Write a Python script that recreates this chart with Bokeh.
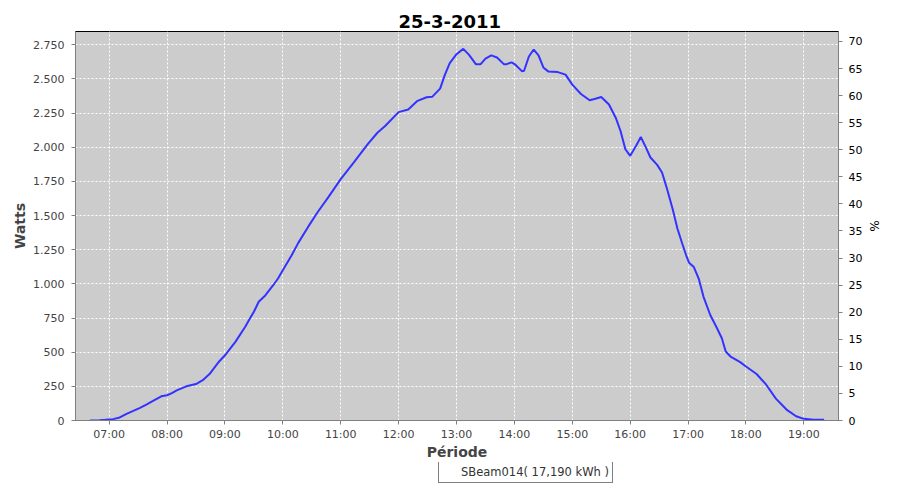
import datetime as dt
from bokeh.plotting import figure
from bokeh.models import (Range1d, LinearAxis, FixedTicker, DatetimeTickFormatter,
                          Legend, LegendItem, ColumnDataSource)
from bokeh.layouts import column
from bokeh.embed import file_html
from bokeh.resources import INLINE

title_text = "25-3-2011"
series_name = "SBeam014( 17,190 kWh )"

times = ["06:40", "06:50", "06:56", "07:04", "07:10", "07:18", "07:25", "07:32", "07:39", "07:45",
         "07:54", "08:00", "08:05", "08:10", "08:20", "08:30", "08:37", "08:44", "08:54", "09:01",
         "09:11", "09:21", "09:26", "09:30", "09:35", "09:42", "09:50", "09:55", "10:01", "10:09",
         "10:16", "10:26", "10:36", "10:47", "11:00", "11:14", "11:28", "11:38", "11:46", "12:00",
         "12:10", "12:19", "12:29", "12:35", "12:43", "12:48", "12:53", "13:00", "13:07", "13:13",
         "13:20", "13:25", "13:30", "13:36", "13:42", "13:49", "13:52", "13:57", "14:01", "14:08",
         "14:10", "14:15", "14:20", "14:25", "14:30", "14:35", "14:45", "14:53", "15:00", "15:09",
         "15:18", "15:23", "15:30", "15:38", "15:45", "15:50", "15:55", "16:00", "16:06", "16:11",
         "16:16", "16:21", "16:28", "16:33", "16:38", "16:44", "16:49", "16:54", "16:58", "17:01",
         "17:06", "17:11", "17:16", "17:23", "17:30", "17:35", "17:39", "17:44", "17:54", "18:00",
         "18:11", "18:21", "18:31", "18:42", "18:52", "19:00", "19:10", "19:21"]
watts = [0, 2, 5, 10, 20, 49, 70, 92, 118, 141,
         177, 185, 200, 220, 250, 267, 295, 340, 432, 485,
         577, 686, 748, 796, 869, 917, 990, 1039, 1112, 1208,
         1300, 1415, 1524, 1633, 1767, 1893, 2022, 2106, 2155, 2257,
         2276, 2337, 2366, 2370, 2429, 2531, 2616, 2681, 2720, 2676,
         2608, 2608, 2648, 2672, 2657, 2608, 2608, 2621, 2604, 2555,
         2560, 2664, 2715, 2672, 2584, 2555, 2550, 2531, 2458, 2390,
         2344, 2353, 2368, 2313, 2216, 2119, 1985, 1937, 2009, 2075,
         2003, 1925, 1871, 1815, 1700, 1548, 1403, 1294, 1209, 1155,
         1123, 1039, 905, 772, 675, 602, 505, 468, 427, 395,
         340, 262, 160, 80, 31, 12, 5, 5]

x_tick_hours = [7, 8, 9, 10, 11, 12, 13, 14, 15, 16, 17, 18, 19]
watt_ticks = [0, 250, 500, 750, 1000, 1250, 1500, 1750, 2000, 2250, 2500, 2750]
pct_ticks = [0, 5, 10, 15, 20, 25, 30, 35, 40, 45, 50, 55, 60, 65, 70]

day = dt.datetime(2011, 3, 25)
xs = [day + dt.timedelta(hours=int(t[:2]), minutes=int(t[3:])) for t in times]
src = ColumnDataSource(dict(x=xs, y=watts))

x_start = day + dt.timedelta(hours=6, minutes=25, seconds=6)
x_end = day + dt.timedelta(hours=19, minutes=35, seconds=54)

FONT = "DejaVu Sans"
LABEL_COL = "#444444"
AXIS_COL = "#808080"
LINE_COL = "#3333FF"

p = figure(width=884, height=462, x_axis_type="datetime",
           x_range=Range1d(x_start, x_end), y_range=Range1d(0, 2847),
           output_backend="svg", toolbar_location=None,
           min_border_left=75, min_border_right=38, min_border_top=31, min_border_bottom=40)

p.title.text = title_text
p.title.align = "left"
p.title.text_font = FONT
p.title.text_font_size = "18px"
p.title.text_font_style = "bold"
p.title.text_color = "#000000"
p.title.offset = 323
p.title.standoff = 7

p.background_fill_color = "#CCCCCC"
p.border_fill_color = "white"
p.outline_line_color = "black"
p.outline_line_width = 1

r = p.line("x", "y", source=src, line_color=LINE_COL, line_width=2)

def epoch_ms(d):
    return (d - dt.datetime(1970, 1, 1)).total_seconds() * 1000.0

xt = [epoch_ms(day + dt.timedelta(hours=h)) for h in x_tick_hours]
xa = p.xaxis[0]
xa.ticker = FixedTicker(ticks=xt)
fmt = "%H:%M"
xa.formatter = DatetimeTickFormatter(microseconds=fmt, milliseconds=fmt, seconds=fmt,
                                     minsec=fmt, minutes=fmt, hourmin=fmt, hours=fmt,
                                     days=fmt, months=fmt, years=fmt)
xa.axis_label = "Période"

ya = p.yaxis[0]
ya.ticker = FixedTicker(ticks=watt_ticks)
ya.major_label_overrides = {v: f"{v:,}".replace(",", ".") for v in watt_ticks}
ya.axis_label = "Watts"

p.extra_y_ranges = {"pct": Range1d(0, 71.84)}
ra = LinearAxis(y_range_name="pct", ticker=FixedTicker(ticks=pct_ticks), axis_label="%")
p.add_layout(ra, "right")

for ax in [xa, ya, ra]:
    ax.axis_line_color = AXIS_COL
    ax.major_tick_line_color = AXIS_COL
    ax.major_tick_out = 4
    ax.major_tick_in = 0
    ax.minor_tick_line_color = None
    ax.major_label_text_font = FONT
    ax.major_label_text_font_size = "11px"
    ax.major_label_text_color = LABEL_COL
    ax.axis_label_text_font = FONT
    ax.axis_label_text_font_size = "14px"
    ax.axis_label_text_font_style = "bold"
    ax.axis_label_text_color = LABEL_COL
    ax.axis_label_standoff = 2
    ax.major_label_standoff = 4
ya.major_label_standoff = 7
xa.major_label_standoff = 3
xa.axis_label_standoff = 0
ra.major_label_standoff = 6
ra.major_label_text_color = "#000000"
ra.axis_label_text_font_style = "normal"
ra.axis_label_text_font_size = "12px"
ra.axis_label_text_color = "#000000"

for g in [p.xgrid[0], p.ygrid[0]]:
    g.grid_line_color = "white"
    g.grid_line_dash = "2 2"
    g.grid_line_width = 1
p.xgrid[0].ticker = xa.ticker
p.ygrid[0].ticker = ya.ticker

# legend strip: a separate small figure below the chart, its legend inside its own frame
lf = figure(width=884, height=22, x_range=Range1d(0, 884), y_range=Range1d(0, 22),
            output_backend="svg", toolbar_location=None,
            x_axis_location=None, y_axis_location=None,
            min_border_left=0, min_border_right=0, min_border_top=0, min_border_bottom=0)
lf.xgrid.visible = False
lf.ygrid.visible = False
lf.outline_line_color = None
lf.background_fill_color = "white"
lf.border_fill_color = "white"
lr = lf.line(x=[], y=[], line_color=LINE_COL, line_width=2)

legend = Legend(items=[LegendItem(label=series_name, renderers=[lr])],
                orientation="horizontal", location=(363, 1))
legend.border_line_color = "black"
legend.border_line_width = 1
legend.background_fill_color = "white"
legend.label_text_font = FONT
legend.label_text_font_size = "11.5px"
legend.label_text_color = "#333333"
legend.label_height = 13
legend.glyph_width = 16
legend.glyph_height = 13
legend.padding = 3
legend.spacing = 0
legend.margin = 0
legend.label_standoff = 3
lf.add_layout(legend)

layout = column(p, lf, spacing=0)
open("out.html", "w").write(file_html(layout, INLINE))
